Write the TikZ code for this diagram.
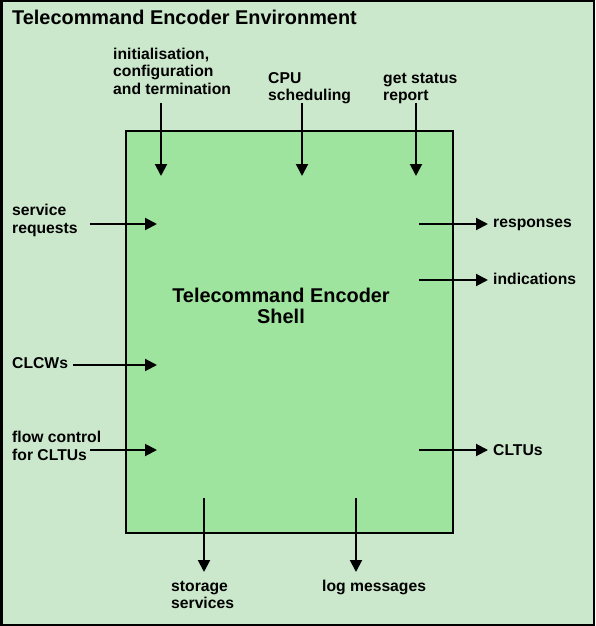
\documentclass[tikz,border=0pt]{standalone}
\usepackage{fontspec}
\setmainfont{Liberation Sans}
\usetikzlibrary{arrows.meta}
\definecolor{outerbg}{HTML}{CCE8CC}
\definecolor{innerbg}{HTML}{9EE49E}
\begin{document}
\begin{tikzpicture}[x=1pt,y=-1pt,
  lbl/.style={font=\fontsize{15.7}{17.5}\selectfont\bfseries, inner sep=0pt, align=left, anchor=base west},
  flow/.style={line width=2pt, -{Triangle[length=12pt,width=12pt]}}]
\useasboundingbox (0,0) rectangle (595,626);
\draw[line width=2.5pt, fill=outerbg] (1.25,1.25) rectangle (593.75,624.75);
\node[draw, line width=2pt, fill=innerbg, minimum width=327pt, minimum height=402pt, inner sep=0pt, anchor=north west] (shell) at (125,130) {};
\node[font=\fontsize{19.9}{20}\selectfont\bfseries, inner sep=0pt, anchor=base west] (title) at (12,25) {Telecommand Encoder Environment};
\node[font=\fontsize{19.9}{21}\selectfont\bfseries, inner sep=0pt, align=center, anchor=base] (shelltxt) at (281,323.3) {Telecommand Encoder\\Shell};
% top labels (anchor at baseline of last line)
\node[lbl] (init) at (113,94.5) {initialisation,\\configuration\\and termination};
\node[lbl] (cpu) at (268,100.5) {CPU\\scheduling};
\node[lbl] (status) at (383,100.5) {get status\\report};
% left labels
\node[lbl] (sreq) at (12,233.3) {service\\requests};
\node[lbl] (clcw) at (12,368.5) {CLCWs};
\node[lbl] (fc) at (12,460) {flow control\\for CLTUs};
% right labels
\node[lbl] (resp) at (493,227) {responses};
\node[lbl] (ind) at (493,284.5) {indications};
\node[lbl] (cltu) at (493,455) {CLTUs};
% bottom labels
\node[lbl] (stor) at (171,608.5) {storage\\services};
\node[lbl] (logm) at (322,591) {log messages};
% coordinates
\coordinate (initS) at (161,103); \coordinate (initE) at (161,176);
\coordinate (cpuS) at (302,103); \coordinate (cpuE) at (302,176);
\coordinate (stS) at (416,103); \coordinate (stE) at (416,176);
\coordinate (srS) at (90,224); \coordinate (srE) at (157,224);
\coordinate (clS) at (73,365); \coordinate (clE) at (157,365);
\coordinate (fcS) at (90,450); \coordinate (fcE) at (157,450);
\coordinate (rsS) at (419,224); \coordinate (rsE) at (488,224);
\coordinate (inS) at (419,280); \coordinate (inE) at (488,280);
\coordinate (ctS) at (419,450); \coordinate (ctE) at (488,450);
\coordinate (soS) at (204,498); \coordinate (soE) at (204,572);
\coordinate (lgS) at (356,498); \coordinate (lgE) at (356,572);
\foreach \a in {init,cpu,st,sr,cl,fc,rs,in,ct,so,lg}
  \draw[flow] (\a S) -- (\a E);
\end{tikzpicture}
\end{document}
